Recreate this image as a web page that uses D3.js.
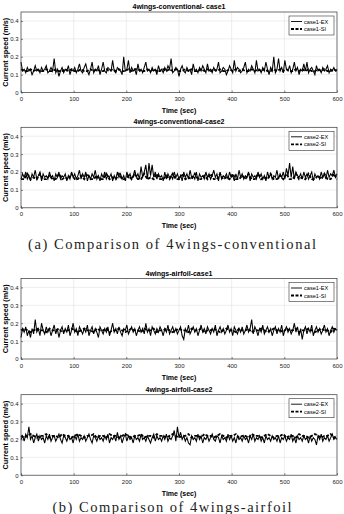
<!DOCTYPE html>
<html><head><meta charset="utf-8">
<script src="https://cdn.jsdelivr.net/npm/d3@7"></script>
<style>body{margin:0;background:#fff}svg{display:block}</style>
</head><body>
<svg id="chart" width="344" height="514"></svg>
<script>
// ---- data (current speed in m/s, sampled over 0..600 s) ----
const xTicks = [0,100,200,300,400,500,600];
const yTicks = [0,0.1,0.2,0.3,0.4];
const panelTitles = ["4wings-conventional- case1","4wings-conventional-case2","4wings-airfoil-case1","4wings-airfoil-case2"];
const legendEX = ["case1-EX","case2-EX","case1-EX","case2-EX"];
const legendSI = ["case1-SI","case2-SI","case1-SI","case2-SI"];
const captions = ["(a) Comparison of 4wings-conventional","(b) Comparison of 4wings-airfoil"];
const xLabel = "Time (sec)";
const yLabel = "Current speed (m/s)";

const conv1EX = [
.17,.12,.13,.11,.14,.12,.13,.10,.12,.15,.12,.13,.11,.14,.12,.13,.15,.11,.12,.14,
.12,.19,.11,.13,.09,.12,.14,.11,.13,.12,.15,.10,.13,.12,.14,.11,.13,.16,.12,.11,
.14,.16,.12,.10,.13,.17,.11,.13,.12,.15,.10,.13,.17,.12,.11,.14,.13,.12,.18,.12,
.11,.14,.13,.12,.10,.20,.12,.13,.18,.11,.14,.12,.13,.10,.16,.12,.13,.11,.14,.17,
.12,.13,.11,.14,.12,.13,.10,.15,.12,.13,.11,.14,.12,.15,.13,.19,.11,.12,.14,.13,
.09,.13,.15,.12,.11,.14,.12,.13,.10,.16,.12,.13,.11,.14,.12,.15,.13,.11,.16,.12,
.13,.11,.14,.12,.13,.17,.11,.12,.14,.13,.10,.12,.15,.13,.11,.18,.12,.14,.13,.11,
.12,.14,.17,.11,.13,.12,.15,.13,.11,.18,.12,.13,.11,.14,.12,.17,.13,.10,.14,.12,
.20,.11,.13,.19,.12,.14,.11,.18,.13,.12,.15,.11,.13,.17,.12,.14,.10,.13,.12,.16,
.12,.17,.11,.13,.14,.12,.10,.15,.12,.13,.11,.14,.12,.13,.15,.11,.13,.12,.14,.12,
.13];
const conv1SI = [
.13,.12,.12,.13,.12,.13,.12,.12,.13,.12,.12,.13,.12,.12,.13,.12,.13,.12,.12,.13,
.12,.12,.13,.12,.13,.12,.12,.13,.12,.13,.12,.13,.12,.12,.13,.12,.13,.13,.12,.12,
.13,.12,.13,.12,.12,.13,.12,.13,.12,.13,.12,.12,.13,.12,.13,.12,.12,.13,.12,.13,
.12,.13,.12,.13,.12,.12,.13,.12,.13,.12,.13,.12,.12,.13,.12,.13,.12,.13,.12,.12,
.13,.12,.13,.12,.13,.12,.12,.13,.12,.13,.12,.13,.12,.12,.13,.12,.13,.12,.12,.13,
.12];
const conv2EX = [
.16,.19,.17,.20,.16,.18,.15,.19,.17,.21,.16,.18,.20,.15,.19,.17,.18,.16,.20,.17,
.18,.15,.19,.17,.20,.16,.18,.17,.19,.15,.18,.16,.20,.17,.19,.16,.18,.21,.16,.19,
.17,.20,.15,.18,.16,.19,.17,.21,.16,.18,.15,.19,.17,.20,.16,.18,.17,.19,.15,.18,
.16,.20,.17,.19,.16,.18,.15,.20,.17,.19,.16,.18,.21,.17,.19,.16,.23,.17,.20,.24,
.16,.25,.18,.24,.17,.20,.16,.19,.17,.18,.15,.20,.16,.19,.17,.18,.16,.20,.17,.19,
.16,.18,.15,.20,.17,.19,.16,.21,.17,.18,.16,.20,.15,.19,.17,.18,.16,.20,.17,.19,
.16,.18,.21,.17,.19,.15,.20,.16,.18,.17,.19,.16,.20,.17,.18,.15,.19,.16,.21,.17,
.19,.16,.18,.17,.20,.15,.19,.17,.18,.16,.20,.17,.19,.16,.18,.15,.20,.17,.19,.16,
.18,.17,.21,.16,.19,.17,.20,.16,.22,.18,.25,.17,.23,.16,.20,.18,.17,.19,.16,.20,
.17,.19,.16,.18,.20,.15,.19,.17,.18,.16,.20,.17,.19,.16,.21,.17,.19,.18,.21,.17,
.19];
const conv2SI = [
.16,.16,.19,.16,.17,.16,.19,.16,.16,.18,.16,.16,.19,.16,.17,.16,.19,.16,.16,.18,
.16,.19,.16,.16,.18,.16,.16,.19,.16,.17,.16,.19,.16,.16,.18,.16,.19,.16,.16,.19,
.16,.17,.16,.19,.16,.16,.18,.16,.19,.16,.16,.19,.16,.17,.16,.19,.16,.16,.18,.16,
.19,.16,.16,.19,.16,.17,.16,.19,.16,.16,.18,.16,.19,.16,.16,.19,.16,.17,.16,.19,
.16,.16,.18,.16,.19,.16,.16,.19,.16,.17,.16,.19,.16,.16,.18,.16,.19,.16,.16,.19,
.16];
const foil1EX = [
.12,.17,.15,.18,.13,.16,.12,.17,.14,.22,.15,.17,.13,.20,.16,.14,.18,.15,.17,.13,
.16,.19,.14,.17,.12,.16,.18,.14,.17,.15,.19,.13,.16,.20,.15,.17,.13,.18,.16,.14,
.17,.15,.19,.13,.16,.18,.14,.17,.15,.12,.18,.16,.14,.17,.15,.18,.13,.16,.20,.15,
.17,.14,.18,.15,.13,.17,.16,.19,.14,.16,.18,.15,.17,.13,.16,.18,.15,.17,.14,.20,
.15,.17,.13,.18,.16,.14,.17,.15,.18,.16,.13,.17,.15,.19,.14,.16,.18,.15,.17,.14,
.16,.18,.13,.11,.17,.15,.19,.14,.16,.18,.15,.17,.13,.16,.19,.15,.17,.14,.18,.16,
.14,.17,.15,.19,.13,.16,.18,.15,.17,.14,.16,.19,.15,.17,.13,.18,.16,.14,.17,.15,
.18,.14,.16,.19,.15,.17,.22,.14,.18,.16,.13,.17,.15,.19,.14,.16,.18,.15,.17,.13,
.16,.18,.14,.17,.15,.19,.13,.16,.18,.15,.17,.14,.16,.20,.15,.18,.13,.17,.11,.16,
.18,.14,.17,.15,.19,.13,.16,.18,.15,.17,.14,.16,.19,.15,.17,.13,.16,.18,.15,.17,
.16];
const foil1SI = [
.16,.17,.16,.15,.16,.17,.16,.16,.15,.17,.16,.16,.17,.15,.16,.16,.17,.16,.15,.16,
.17,.16,.16,.15,.17,.16,.16,.17,.15,.16,.16,.17,.16,.15,.16,.17,.16,.16,.15,.17,
.16,.16,.17,.15,.16,.16,.17,.16,.15,.16,.17,.16,.16,.15,.17,.16,.16,.17,.15,.16,
.16,.17,.16,.15,.16,.17,.16,.16,.15,.17,.16,.16,.17,.15,.16,.16,.17,.16,.15,.16,
.17,.16,.16,.15,.17,.16,.16,.17,.15,.16,.16,.17,.16,.15,.16,.17,.16,.16,.15,.17,
.16];
const foil2EX = [
.20,.22,.19,.23,.21,.27,.20,.22,.18,.21,.23,.19,.22,.20,.21,.18,.22,.20,.23,.19,
.21,.22,.19,.21,.23,.20,.18,.22,.21,.19,.22,.20,.21,.18,.22,.20,.23,.19,.21,.20,
.22,.19,.21,.23,.20,.18,.22,.21,.19,.22,.20,.21,.19,.22,.20,.23,.18,.21,.20,.22,
.19,.24,.20,.22,.18,.21,.23,.19,.22,.20,.21,.18,.22,.20,.21,.19,.23,.20,.21,.19,
.22,.20,.18,.21,.23,.19,.22,.20,.21,.19,.22,.20,.23,.19,.21,.20,.22,.25,.19,.27,
.21,.24,.20,.22,.19,.21,.18,.17,.22,.20,.21,.19,.23,.20,.22,.18,.21,.20,.22,.19,
.21,.23,.20,.19,.22,.21,.18,.22,.20,.21,.19,.23,.20,.22,.19,.21,.18,.22,.20,.21,
.19,.22,.20,.21,.18,.22,.20,.23,.19,.21,.20,.22,.19,.21,.18,.22,.20,.21,.19,.22,
.20,.21,.19,.22,.18,.21,.20,.22,.19,.21,.20,.23,.19,.21,.18,.22,.20,.21,.19,.22,
.20,.21,.18,.22,.19,.21,.20,.17,.22,.20,.23,.19,.21,.20,.22,.19,.21,.23,.20,.21,
.20];
const foil2SI = [
.22,.21,.22,.23,.22,.21,.22,.22,.23,.21,.22,.22,.21,.23,.22,.22,.21,.22,.23,.22,
.21,.22,.22,.23,.21,.22,.22,.21,.23,.22,.22,.21,.22,.23,.22,.21,.22,.22,.23,.21,
.22,.22,.21,.23,.22,.22,.21,.22,.23,.22,.21,.22,.22,.23,.21,.22,.22,.21,.23,.22,
.22,.21,.22,.23,.22,.21,.22,.22,.23,.21,.22,.22,.21,.23,.22,.22,.21,.22,.23,.22,
.21,.22,.22,.23,.21,.22,.22,.21,.23,.22,.22,.21,.22,.23,.22,.21,.22,.22,.23,.21,
.22];

const seriesEX = [conv1EX, conv2EX, foil1EX, foil2EX];
const seriesSI = [conv1SI, conv2SI, foil1SI, foil2SI];

// ---- layout ----
const svg = d3.select("#chart");
const left = 21, right = 337, ph = 80.5;
const tops = [12, 127.3, 278.5, 394.7];
const sans = "'Liberation Sans', Arial, sans-serif";
const x = d3.scaleLinear().domain([0, 600]).range([left, right]);

tops.forEach((top, i) => {
  const bottom = top + ph;
  const y = d3.scaleLinear().domain([0, 0.45]).range([bottom, top]);
  const g = svg.append("g");

  // grid
  g.append("g").selectAll("line").data(xTicks.slice(1, -1)).join("line")
    .attr("x1", d => x(d)).attr("x2", d => x(d)).attr("y1", top).attr("y2", bottom)
    .attr("stroke", "#e3e3e3").attr("stroke-width", 0.6);
  g.append("g").selectAll("line").data(yTicks.slice(1)).join("line")
    .attr("x1", left).attr("x2", right).attr("y1", d => y(d)).attr("y2", d => y(d))
    .attr("stroke", "#e3e3e3").attr("stroke-width", 0.6);

  // axes (MATLAB style, ticks inward)
  const ax = g.append("g").attr("transform", `translate(0,${bottom})`)
    .call(d3.axisBottom(x).tickValues(xTicks).tickSize(-2).tickPadding(5).tickFormat(d3.format("d")));
  const ay = g.append("g").attr("transform", `translate(${left},0)`)
    .call(d3.axisLeft(y).tickValues(yTicks).tickSize(-2).tickPadding(2.5).tickFormat(d => d === 0 ? "0" : d3.format(".1f")(d)));
  [ax, ay].forEach(a => {
    a.select(".domain").remove();
    a.selectAll(".tick line").attr("stroke", "#333").attr("stroke-width", 0.6);
    a.selectAll("text").attr("font-family", sans).attr("font-size", 6).attr("fill", "#222");
  });
  ax.selectAll("text").attr("dy", "0.6em");

  // lines
  const tEX = seriesEX[i].map((v, k) => ({t: k * 600 / (seriesEX[i].length - 1), v}));
  const tSI = seriesSI[i].map((v, k) => ({t: k * 600 / (seriesSI[i].length - 1), v}));
  const line = d3.line().x(d => x(d.t)).y(d => y(d.v));
  g.append("path").datum(tSI).attr("d", line).attr("fill", "none")
    .attr("stroke", "#000").attr("stroke-width", 1.8).attr("stroke-dasharray", "3,1.5");
  g.append("path").datum(tEX).attr("d", line).attr("fill", "none")
    .attr("stroke", "#000").attr("stroke-width", 1.05).attr("stroke-linejoin", "miter");

  // frame
  g.append("rect").attr("x", left).attr("y", top).attr("width", right - left).attr("height", ph)
    .attr("fill", "none").attr("stroke", "#333").attr("stroke-width", 0.7);

  // title, axis labels
  g.append("text").attr("x", (left + right) / 2).attr("y", top - 3).attr("text-anchor", "middle")
    .attr("font-family", sans).attr("font-weight", "bold").attr("font-size", 7).text(panelTitles[i]);
  g.append("text").attr("x", (left + right) / 2).attr("y", bottom + 20.5).attr("text-anchor", "middle")
    .attr("font-family", sans).attr("font-weight", "bold").attr("font-size", 7).text(xLabel);
  g.append("text").attr("transform", `translate(8,${(top + bottom) / 2}) rotate(-90)`).attr("text-anchor", "middle")
    .attr("font-family", sans).attr("font-weight", "bold").attr("font-size", 7.3).text(yLabel);

  // legend
  const lx = 289, ly = top + 4;
  const lg = g.append("g");
  lg.append("rect").attr("x", lx).attr("y", ly).attr("width", 45).attr("height", 19)
    .attr("fill", "#fff").attr("stroke", "#333").attr("stroke-width", 0.6);
  lg.append("line").attr("x1", lx + 2).attr("x2", lx + 13).attr("y1", ly + 5.5).attr("y2", ly + 5.5)
    .attr("stroke", "#000").attr("stroke-width", 0.9);
  lg.append("line").attr("x1", lx + 2).attr("x2", lx + 13).attr("y1", ly + 13).attr("y2", ly + 13)
    .attr("stroke", "#000").attr("stroke-width", 1.8).attr("stroke-dasharray", "3,1.5");
  lg.append("text").attr("x", lx + 15).attr("y", ly + 7.5).attr("font-family", sans).attr("font-size", 5.6).text(legendEX[i]);
  lg.append("text").attr("x", lx + 15).attr("y", ly + 15).attr("font-family", sans).attr("font-size", 5.6).text(legendSI[i]);
});

// captions
const capY = [249, 512];
captions.forEach((c, i) => {
  const w = i === 0 ? 288 : 239;
  svg.append("text").attr("x", 172).attr("y", capY[i]).attr("text-anchor", "middle")
    .attr("font-family", "'Liberation Serif', 'DejaVu Serif', serif").attr("font-size", 14.5)
    .attr("textLength", w).attr("lengthAdjust", "spacing").attr("fill", "#222").text(c);
});
</script>
</body></html>
